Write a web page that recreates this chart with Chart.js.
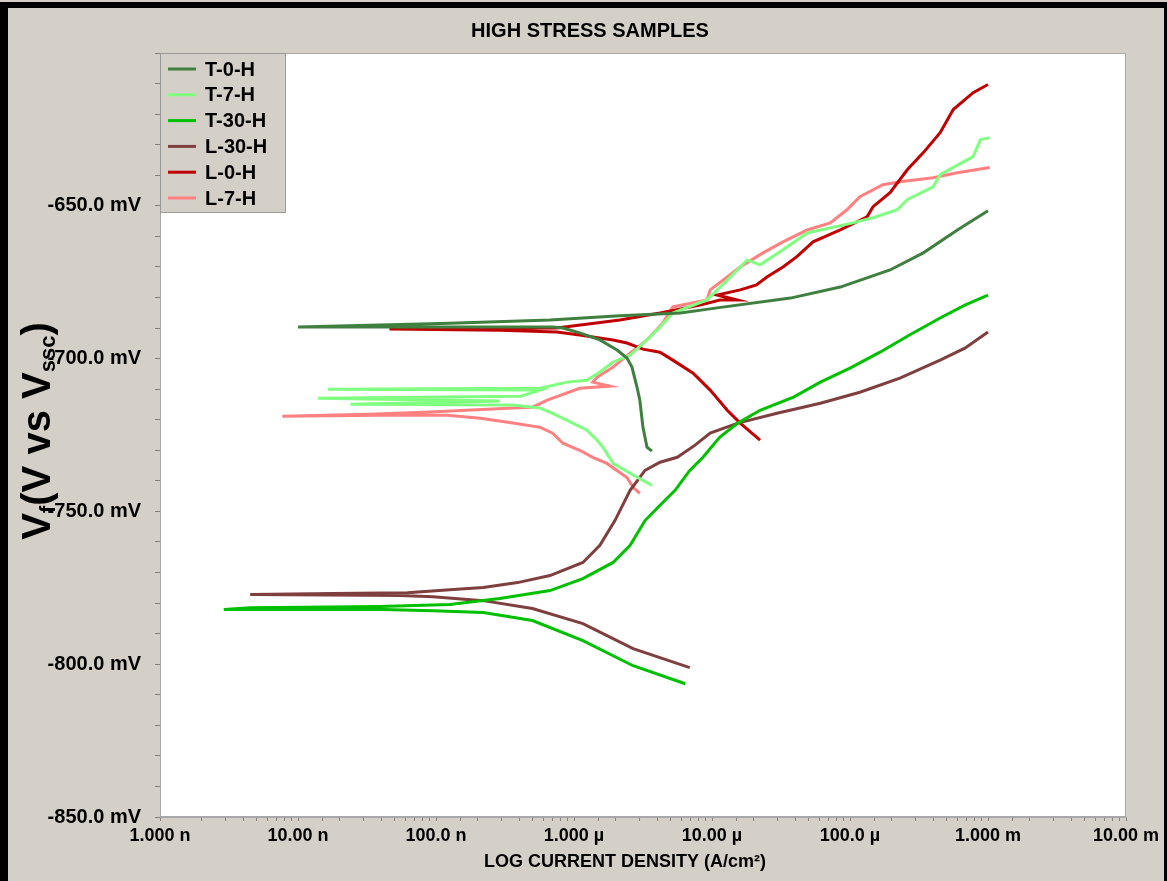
<!DOCTYPE html>
<html>
<head>
<meta charset="utf-8">
<title>High stress samples</title>
<script src="https://cdn.jsdelivr.net/npm/chart.js@4.4.1/dist/chart.umd.min.js"></script>
<style>
  html, body { margin: 0; padding: 0; background: #d4d0c8; }
  #wrap { width: 1167px; height: 881px; }
</style>
</head>
<body>
<div id="wrap"><canvas id="tafelChart" width="1167" height="881"></canvas></div>
<script>
// ---- data (current density in A/cm², potential in mV) ----
const seriesNames = ["T-0-H", "T-7-H", "T-30-H", "L-30-H", "L-0-H", "L-7-H"];
const decadeLabels = ["1.000 n", "10.00 n", "100.0 n", "1.000 µ", "10.00 µ", "100.0 µ", "1.000 m", "10.00 m"];

const t0Current = [3.67e-6, 3.38e-6, 3.16e-6, 3.0e-6, 2.86e-6, 2.63e-6, 2.42e-6, 2.05e-6, 1.54e-6, 1.1e-6, 8.3e-7, 7.0e-7, 2.9e-7, 5.5e-8, 1.0e-8, 3.9e-8, 1.26e-7, 6.7e-7, 2.15e-6, 5.9e-6, 1.09e-5, 3.7e-5, 8.5e-5, 1.95e-4, 3.4e-4, 6.0e-4, 1.0e-3];
const t0Potential = [-730.3, -729.0, -722.5, -713.6, -709.3, -702.8, -699.8, -697.2, -693.9, -691.6, -690.0, -689.7, -689.7, -689.7, -689.7, -689.0, -688.4, -687.4, -686.0, -685.1, -683.4, -680.2, -676.6, -671.0, -665.4, -657.9, -651.6];

const t7Current = [3.67e-6, 2.55e-6, 1.92e-6, 1.62e-6, 1.47e-6, 1.24e-6, 9.8e-7, 7.0e-7, 5.7e-7, 3.6e-7, 2.4e-8, 2.9e-7, 1.4e-8, 4.1e-7, 5.7e-7, 1.65e-8, 5.7e-7, 8.9e-7, 1.24e-6, 1.54e-6, 1.92e-6, 2.55e-6, 3.38e-6, 4.2e-6, 5.2e-6, 9.2e-6, 1.29e-5, 1.8e-5, 2.23e-5, 3.27e-5, 4.9e-5, 1.05e-4, 1.47e-4, 2.2e-4, 2.6e-4, 4.0e-4, 4.5e-4, 7.8e-4, 8.8e-4, 1.03e-3];
const t7Potential = [-741.5, -737.5, -734.3, -729.0, -726.7, -723.4, -721.1, -717.9, -716.2, -715.2, -714.9, -713.9, -713.0, -712.3, -710.3, -710.0, -709.7, -707.7, -707.1, -704.4, -701.1, -698.9, -693.9, -689.7, -685.1, -680.8, -674.3, -667.7, -669.3, -664.4, -658.9, -655.6, -653.9, -651.3, -648.0, -643.8, -639.8, -633.9, -628.4, -627.7];

const t30Current = [6.4e-6, 2.68e-6, 1.16e-6, 5.0e-7, 2.2e-7, 9.5e-8, 4.1e-8, 2.9e-9, 4.5e-9, 3.9e-8, 1.26e-7, 2.9e-7, 6.7e-7, 1.16e-6, 1.92e-6, 2.55e-6, 3.27e-6, 4.2e-6, 5.4e-6, 6.9e-6, 8.6e-6, 1.14e-5, 1.54e-5, 2.23e-5, 3.9e-5, 6.1e-5, 1.0e-4, 1.65e-4, 2.7e-4, 4.5e-4, 6.8e-4, 1.0e-3];
const t30Potential = [-806.4, -800.5, -792.3, -785.7, -783.1, -782.5, -782.1, -782.1, -781.5, -781.1, -780.5, -778.5, -775.9, -772.0, -766.7, -761.1, -753.0, -748.0, -743.1, -736.6, -732.3, -725.7, -721.1, -716.9, -712.6, -707.7, -703.1, -697.9, -692.3, -686.7, -682.5, -679.2];

const l30Current = [6.9e-6, 2.68e-6, 1.16e-6, 5.0e-7, 2.2e-7, 9.5e-8, 5.5e-8, 4.5e-9, 1.8e-8, 6.2e-8, 1.26e-7, 2.2e-7, 3.9e-7, 6.7e-7, 1.16e-6, 1.54e-6, 1.98e-6, 2.55e-6, 3.27e-6, 4.2e-6, 5.6e-6, 7.5e-6, 9.7e-6, 1.54e-5, 2.96e-5, 6.1e-5, 1.18e-4, 2.3e-4, 4.5e-4, 6.8e-4, 1.0e-3];
const l30Potential = [-801.1, -794.9, -786.7, -781.8, -779.2, -777.9, -777.5, -777.2, -776.9, -776.6, -775.6, -774.9, -773.3, -771.0, -766.7, -761.1, -753.0, -743.1, -736.6, -733.9, -732.3, -728.4, -724.4, -721.1, -717.9, -714.6, -711.0, -706.4, -700.5, -696.6, -691.3];

const l0Current = [2.23e-5, 1.6e-5, 1.29e-5, 9.7e-6, 7.3e-6, 5.2e-6, 4.2e-6, 3.16e-6, 2.42e-6, 1.92e-6, 1.37e-6, 1.1e-6, 7.5e-7, 2.9e-7, 4.6e-8, 1.26e-7, 7.5e-7, 2.15e-6, 4.2e-6, 8.2e-6, 1.14e-5, 1.52e-5, 1.09e-5, 1.6e-5, 2.1e-5, 2.5e-5, 3.27e-5, 4.1e-5, 5.4e-5, 8.5e-5, 1.33e-4, 1.47e-4, 1.95e-4, 2.6e-4, 3.4e-4, 4.5e-4, 5.6e-4, 7.8e-4, 1.0e-3];
const l0Potential = [-726.7, -721.1, -716.9, -710.3, -704.8, -700.5, -697.9, -696.9, -694.9, -693.9, -692.9, -692.3, -691.3, -690.7, -690.3, -690.2, -690.0, -687.4, -685.1, -682.5, -680.8, -680.8, -679.2, -677.5, -675.9, -673.3, -670.0, -666.7, -661.8, -657.9, -653.6, -650.3, -645.7, -638.2, -632.6, -626.1, -618.5, -613.0, -610.3];

const l7Current = [3.0e-6, 2.68e-6, 2.42e-6, 1.73e-6, 1.37e-6, 1.1e-6, 8.3e-7, 7.0e-7, 5.7e-7, 3.6e-7, 2.1e-7, 1.2e-7, 3.9e-8, 7.7e-9, 3.3e-8, 9.1e-8, 3.6e-7, 5.0e-7, 6.4e-7, 1.1e-6, 1.82e-6, 1.37e-6, 1.47e-6, 1.92e-6, 2.55e-6, 3.38e-6, 4.4e-6, 5.2e-6, 9.2e-6, 9.7e-6, 1.29e-5, 1.6e-5, 2.34e-5, 3.27e-5, 4.9e-5, 7.2e-5, 9.5e-5, 1.18e-4, 1.73e-4, 2.3e-4, 4.0e-4, 6.0e-4, 1.03e-3];
const l7Potential = [-744.1, -742.1, -738.9, -734.3, -732.3, -730.0, -727.7, -724.4, -722.5, -721.1, -719.5, -718.5, -718.5, -718.9, -718.2, -717.5, -716.2, -715.9, -713.6, -709.7, -709.0, -707.7, -706.1, -702.8, -698.2, -693.9, -688.4, -683.1, -680.8, -677.5, -673.3, -670.0, -665.4, -661.8, -657.9, -655.6, -651.3, -647.0, -643.1, -642.1, -640.8, -639.2, -637.5];

const seriesColors = ["#3f7f3f", "#80ff80", "#00c000", "#7f3f3f", "#c00000", "#ff8080"];
const FONT = "'Liberation Sans', Arial, sans-serif";

const toPoints = (xs, ys) => xs.map((x, i) => ({ x, y: ys[i] }));
const allSeries = [
  [t0Current, t0Potential],
  [t7Current, t7Potential],
  [t30Current, t30Potential],
  [l30Current, l30Potential],
  [l0Current, l0Potential],
  [l7Current, l7Potential],
];

// gray window, white plot area, black frame
const backdrop = {
  id: "backdrop",
  beforeDraw(chart) {
    const { ctx, chartArea: a, width, height } = chart;
    ctx.save();
    ctx.fillStyle = "#d4d0c8";
    ctx.fillRect(0, 0, width, height);
    ctx.fillStyle = "#ffffff";
    ctx.fillRect(a.left, a.top, a.right - a.left, a.bottom - a.top);
    ctx.fillStyle = "#000000";
    ctx.fillRect(0, 2, width, 6);
    ctx.fillRect(0, 2, 8, height);
    ctx.fillRect(width - 3, 2, 3, height);
    ctx.restore();
  },
};

// title, axis titles and the boxed legend
const annotations = {
  id: "annotations",
  afterDatasetsDraw(chart) {
    const { ctx, chartArea: a } = chart;
    ctx.save();

    ctx.strokeStyle = "#a8a8a8";
    ctx.lineWidth = 1;
    ctx.strokeRect(a.left + 0.5, a.top + 0.5, a.right - a.left - 1, a.bottom - a.top - 1);

    ctx.fillStyle = "#000";
    ctx.textBaseline = "middle";
    ctx.textAlign = "center";
    ctx.font = "bold 20px " + FONT;
    ctx.fillText("HIGH STRESS SAMPLES", 590, 31);
    ctx.font = "bold 18px " + FONT;
    ctx.fillText("LOG CURRENT DENSITY (A/cm²)", 625, 862);

    // y title with subscripts
    const parts = [
      { t: "V", size: 40, dy: 0 },
      { t: "f", size: 22, dy: 5 },
      { t: "(V vs V", size: 40, dy: 0 },
      { t: "ssc", size: 22, dy: 5 },
      { t: ")", size: 40, dy: 0 },
    ];
    let total = 0;
    parts.forEach((p) => {
      ctx.font = `bold ${p.size}px ${FONT}`;
      p.w = ctx.measureText(p.t).width;
      total += p.w;
    });
    ctx.translate(37, 431);
    ctx.rotate(-Math.PI / 2);
    ctx.textAlign = "left";
    ctx.textBaseline = "alphabetic";
    let cx = -total / 2;
    parts.forEach((p) => {
      ctx.font = `bold ${p.size}px ${FONT}`;
      ctx.fillText(p.t, cx, 13 + p.dy);
      cx += p.w;
    });
    ctx.setTransform(1, 0, 0, 1, 0, 0);

    // legend
    const lx = a.left, ly = a.top, lw = 126, lh = 160;
    ctx.fillStyle = "#d4d0c8";
    ctx.fillRect(lx, ly, lw, lh);
    ctx.strokeStyle = "#9a9a9a";
    ctx.strokeRect(lx + 0.5, ly + 0.5, lw - 1, lh - 1);
    ctx.textAlign = "left";
    ctx.textBaseline = "middle";
    ctx.font = "bold 20px " + FONT;
    chart.data.datasets.forEach((ds, i) => {
      const y = ly + 16 + i * 25.8;
      ctx.strokeStyle = ds.borderColor;
      ctx.lineWidth = 3;
      ctx.beginPath();
      ctx.moveTo(lx + 8, y);
      ctx.lineTo(lx + 36, y);
      ctx.stroke();
      ctx.fillStyle = "#000";
      ctx.fillText(ds.label, lx + 45, y + 1);
    });
    ctx.restore();
  },
};

new Chart(document.getElementById("tafelChart"), {
  type: "scatter",
  data: {
    datasets: allSeries.map(([xs, ys], i) => ({
      label: seriesNames[i],
      data: toPoints(xs, ys),
      showLine: true,
      borderColor: seriesColors[i],
      backgroundColor: seriesColors[i],
      borderWidth: 3,
      pointRadius: 0,
      tension: 0,
    })),
  },
  options: {
    responsive: false,
    animation: false,
    layout: { padding: { top: 53, right: 41, left: 0, bottom: 0 } },
    plugins: {
      legend: { display: false },
      title: { display: false },
      tooltip: { enabled: false },
    },
    scales: {
      x: {
        type: "logarithmic",
        min: 1e-9,
        max: 1e-2,
        afterFit: (scale) => { scale.height = 64; },
        grid: { drawOnChartArea: false, tickLength: 4, color: "#808080" },
        border: { color: "#a8a8a8" },
        ticks: {
          autoSkip: false,
          maxRotation: 0,
          padding: 4,
          color: "#000",
          font: { family: FONT, size: 18, weight: "bold" },
          callback: (v) => {
            const e = Math.log10(v);
            if (Math.abs(e - Math.round(e)) > 1e-6) return "";
            return decadeLabels[Math.round(e) + 9] || "";
          },
        },
      },
      y: {
        min: -850,
        max: -600,
        afterFit: (scale) => { scale.width = 160; },
        grid: { drawOnChartArea: false, tickLength: 5, color: "#808080" },
        border: { color: "#a8a8a8" },
        ticks: {
          stepSize: 10,
          autoSkip: false,
          padding: 14,
          color: "#000",
          font: { family: FONT, size: 20, weight: "bold" },
          callback: (v) => (v % 50 === 0 && v < -600 ? `${v.toFixed(1)} mV` : ""),
        },
      },
    },
  },
  plugins: [backdrop, annotations],
});
</script>
</body>
</html>
